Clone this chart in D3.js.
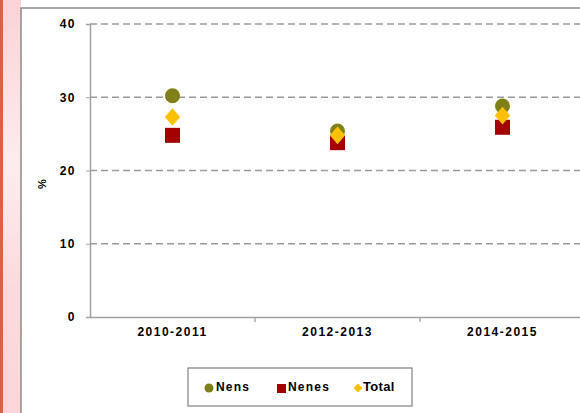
<!DOCTYPE html>
<html><head><meta charset="utf-8">
<script src="https://cdn.jsdelivr.net/npm/d3@7/dist/d3.min.js"></script>
<style>html,body{margin:0;padding:0;background:#fff;overflow:hidden}</style>
</head><body><svg id="c" width="580" height="413"></svg>
<script>
const categories = ["2010-2011", "2012-2013", "2014-2015"];
const seriesNames = ["Nens", "Nenes", "Total"];
const nens = [30.2, 25.4, 28.8];
const nenes = [24.8, 23.8, 25.9];
const total = [27.3, 24.8, 27.5];
const yTicks = [0, 10, 20, 30, 40];

const svg = d3.select("#c");
const font = "'Liberation Sans', Arial, sans-serif";

// left decorative strip
const defs = svg.append("defs");
const g1 = defs.append("linearGradient").attr("id","pk").attr("x1",0).attr("y1",0).attr("x2",0).attr("y2",1);
g1.append("stop").attr("offset","0%").attr("stop-color","#fbd3d6");
g1.append("stop").attr("offset","40%").attr("stop-color","#fdecee");
g1.append("stop").attr("offset","70%").attr("stop-color","#fbdadd");
g1.append("stop").attr("offset","100%").attr("stop-color","#fcd6d9");
svg.append("rect").attr("x",0).attr("y",0).attr("width",21).attr("height",413).attr("fill","url(#pk)");
svg.append("rect").attr("x",0).attr("y",0).attr("width",3).attr("height",413).attr("fill","#d9623f");

// outer frame
svg.append("rect").attr("x",21).attr("y",8).attr("width",600).attr("height",450)
  .attr("fill","#fff").attr("stroke","#8a8a8a").attr("stroke-width",1.5);

const x0 = 90, x1 = 585, yTop = 24, yBot = 317;
const x = d3.scaleBand().domain(categories).range([x0, x1]);
const y = d3.scaleLinear().domain([0, 40]).range([yBot, yTop]);

// gridlines
svg.append("g").selectAll("line").data(yTicks.filter(d => d > 0)).join("line")
  .attr("x1", x0).attr("x2", 580).attr("y1", d => y(d)).attr("y2", d => y(d))
  .attr("stroke","#9a9a9a").attr("stroke-width",1.3).attr("stroke-dasharray","7,4");

// y axis
const ya = svg.append("g").attr("transform",`translate(${x0},0)`)
  .call(d3.axisLeft(y).tickValues(yTicks).tickSize(4).tickPadding(10));
ya.select(".domain").attr("stroke","#a0a0a0").attr("stroke-width",1.5);
ya.selectAll(".tick line").attr("stroke","#a0a0a0");
ya.selectAll("text").attr("font-family",font).attr("font-size",12).attr("font-weight","bold")
  .attr("letter-spacing",1.5).attr("fill","#000");

// x axis
const xa = svg.append("g").attr("transform",`translate(0,${yBot})`)
  .call(d3.axisBottom(x).tickSize(0).tickPadding(10));
xa.select(".domain").attr("stroke","#a0a0a0").attr("stroke-width",1.5);
xa.selectAll("text").attr("font-family",font).attr("font-size",12).attr("font-weight","bold")
  .attr("letter-spacing",1.5).attr("fill","#000");
xa.selectAll("line.bd").data(categories.slice(1)).join("line").attr("class","bd")
  .attr("x1", d => x(d)).attr("x2", d => x(d)).attr("y1",0).attr("y2",5)
  .attr("stroke","#a0a0a0").attr("stroke-width",1.3);

// y label
svg.append("text").attr("transform","translate(46,184) rotate(-90)")
  .attr("text-anchor","middle").attr("font-family",font).attr("font-size",11).attr("font-weight","bold").text("%");

const cx = d => x(d) + x.bandwidth()/2;
const colors = {Nens:"#808019", Nenes:"#a50000", Total:"#ffc000"};

// Nens circles
svg.append("g").selectAll("circle").data(categories).join("circle")
  .attr("cx", d => cx(d)).attr("cy", (d,i) => y(nens[i])).attr("r",7.5).attr("fill",colors.Nens);
// Nenes squares
svg.append("g").selectAll("rect").data(categories).join("rect")
  .attr("x", d => cx(d)-7.5).attr("y", (d,i) => y(nenes[i])-7.5).attr("width",15).attr("height",15).attr("fill",colors.Nenes);
// Total diamonds
const diamond = d3.symbol().type(d3.symbolDiamond2).size(150);
svg.append("g").selectAll("path").data(categories).join("path")
  .attr("transform",(d,i) => `translate(${cx(d)},${y(total[i])}) scale(1,1.15)`)
  .attr("d", diamond).attr("fill",colors.Total);

// legend
svg.append("rect").attr("x",188).attr("y",368).attr("width",224).attr("height",38)
  .attr("fill","#fff").attr("stroke","#8a8a8a").attr("stroke-width",1.3);
const ly = 387;
const lt = (xx, t) => svg.append("text").attr("x",xx).attr("y",ly+4).attr("font-family",font)
  .attr("font-size",12).attr("font-weight","bold").attr("letter-spacing",1.2).text(t);
svg.append("circle").attr("cx",209).attr("cy",ly+1).attr("r",4.5).attr("fill",colors.Nens);
lt(216, seriesNames[0]);
svg.append("rect").attr("x",277).attr("y",ly-3).attr("width",9).attr("height",9).attr("fill",colors.Nenes);
lt(288, seriesNames[1]);
svg.append("path").attr("transform",`translate(358,${ly+1})`).attr("d", d3.symbol().type(d3.symbolDiamond2).size(50)).attr("fill",colors.Total);
svg.append("text").attr("x",363).attr("y",ly+4).attr("font-family",font)
  .attr("font-size",13).attr("font-weight","bold").attr("letter-spacing",0.3).text(seriesNames[2]);
</script></body></html>
